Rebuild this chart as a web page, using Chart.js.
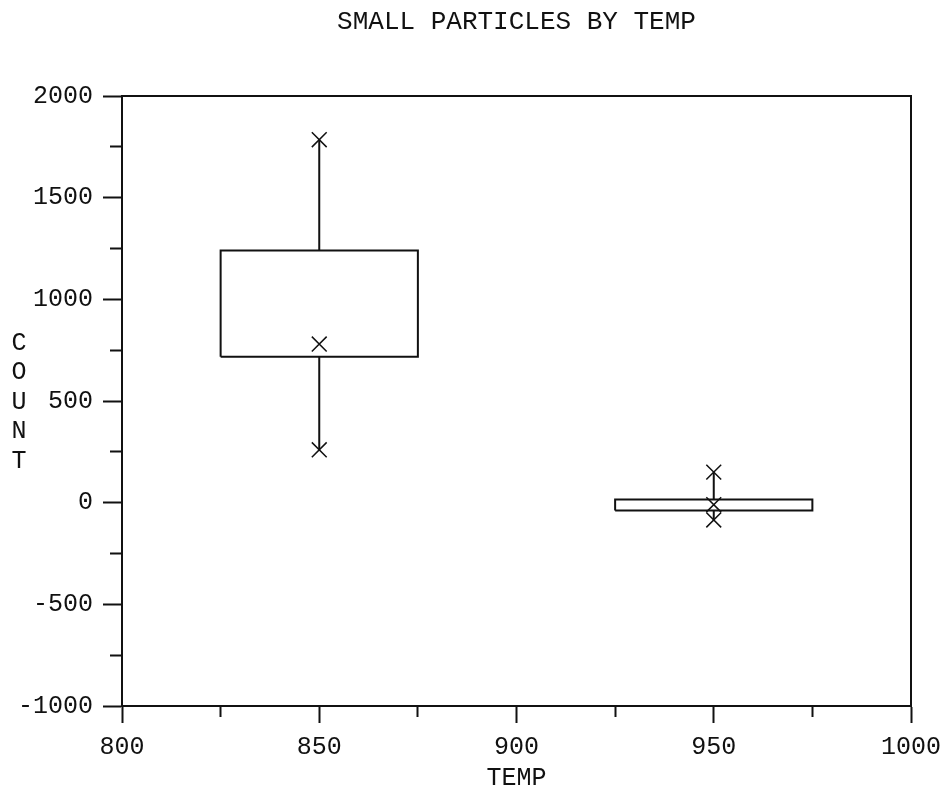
<!DOCTYPE html>
<html>
<head>
<meta charset="utf-8">
<script src="https://cdn.jsdelivr.net/npm/chart.js@4"></script>
<style>
  html, body { margin: 0; padding: 0; background: #fff; }
  canvas { display: block; }
</style>
</head>
<body>
<canvas id="c" width="944" height="795"></canvas>
<script>
// Small-particle counts summarised per furnace temperature
const temps      = [850, 950];
const lowValues  = [260, -85];
const boxBottom  = [718, -38];
const midValues  = [780, -10];
const boxTop     = [1240, 15];
const highValues = [1785, 150];

// Labelled tick values (minor ticks sit half-way between them)
const xTickLabels = [800, 850, 900, 950, 1000];
const yTickLabels = [-1000, -500, 0, 500, 1000, 1500, 2000];

const TITLE   = 'SMALL PARTICLES BY TEMP';
const X_TITLE = 'TEMP';
const Y_TITLE = 'COUNT';

const BOX_HALF = 25;   // half-width of each box, in temperature units
const FONT = '"Liberation Mono", "DejaVu Sans Mono", monospace';
const INK = '#111';

// Box outlines: closed rectangles, separated by a gap point
const boxPoints = [];
temps.forEach((t, i) => {
  boxPoints.push(
    {x: t - BOX_HALF, y: boxBottom[i]},
    {x: t + BOX_HALF, y: boxBottom[i]},
    {x: t + BOX_HALF, y: boxTop[i]},
    {x: t - BOX_HALF, y: boxTop[i]},
    {x: t - BOX_HALF, y: boxBottom[i]},
    {x: t, y: null}
  );
});

// Whiskers: low -> box bottom, box top -> high
const whiskerPoints = [];
temps.forEach((t, i) => {
  whiskerPoints.push(
    {x: t, y: lowValues[i]}, {x: t, y: boxBottom[i]}, {x: t, y: null},
    {x: t, y: boxTop[i]},    {x: t, y: highValues[i]}, {x: t, y: null}
  );
});

// Marker points: low, middle and high observation of each group
const markerPoints = [];
temps.forEach((t, i) => {
  markerPoints.push({x: t, y: highValues[i]}, {x: t, y: midValues[i]}, {x: t, y: lowValues[i]});
});

const xStep = (xTickLabels[1] - xTickLabels[0]) / 2;
const yStep = (yTickLabels[1] - yTickLabels[0]) / 2;

// Outline of the plotting frame
const framePlugin = {
  id: 'frame',
  afterDatasetsDraw(chart) {
    const {ctx, chartArea: a} = chart;
    ctx.save();
    ctx.strokeStyle = INK;
    ctx.lineWidth = 2;
    ctx.strokeRect(a.left, a.top, a.right - a.left, a.bottom - a.top);
    ctx.restore();
  }
};

// Vertical, letter-stacked y-axis title
const stackedYTitle = {
  id: 'stackedYTitle',
  afterDraw(chart) {
    const {ctx} = chart;
    ctx.save();
    ctx.fillStyle = INK;
    ctx.font = '25px ' + FONT;
    ctx.textAlign = 'center';
    ctx.textBaseline = 'middle';
    [...Y_TITLE].forEach((ch, i) => ctx.fillText(ch, 19, 343 + i * 29.5));
    ctx.restore();
  }
};

new Chart(document.getElementById('c'), {
  type: 'scatter',
  data: {
    datasets: [
      {
        label: 'markers',
        data: markerPoints,
        order: 0,
        pointStyle: 'crossRot',
        pointRadius: 10.5,
        pointBorderWidth: 1.5,
        pointBorderColor: INK,
        pointBackgroundColor: 'transparent',
        clip: false
      },
      {
        label: 'boxes',
        data: boxPoints,
        order: 1,
        showLine: true,
        spanGaps: false,
        borderColor: INK,
        borderWidth: 2,
        backgroundColor: 'transparent',
        pointRadius: 0,
        fill: false,
        tension: 0
      },
      {
        label: 'whiskers',
        data: whiskerPoints,
        order: 2,
        showLine: true,
        spanGaps: false,
        borderColor: INK,
        borderWidth: 2,
        pointRadius: 0,
        fill: false,
        tension: 0
      }
    ]
  },
  options: {
    responsive: false,
    animation: false,
    events: [],
    layout: { padding: { left: 0, right: 33, top: 0, bottom: 0 } },
    plugins: {
      legend: { display: false },
      tooltip: { enabled: false },
      title: {
        display: true,
        text: TITLE,
        fullSize: false,
        color: INK,
        font: { family: FONT, size: 26, weight: 'normal', lineHeight: 1 },
        padding: { top: 9.5, bottom: 60.5 }
      }
    },
    scales: {
      x: {
        type: 'linear',
        position: 'bottom',
        min: xTickLabels[0],
        max: xTickLabels[xTickLabels.length - 1],
        afterFit(scale) {
          scale.height = 89;
          scale.paddingLeft = 0;
          scale.paddingRight = 0;
        },
        ticks: {
          stepSize: xStep,
          autoSkip: false,
          maxRotation: 0,
          color: INK,
          padding: 12,
          font: { family: FONT, size: 25, lineHeight: 1 },
          callback: v => xTickLabels.includes(v) ? String(v) : ''
        },
        grid: {
          drawOnChartArea: false,
          drawTicks: true,
          tickLength: 17,
          tickWidth: 2,
          tickColor: INK,
          tickBorderDash: ctx => xTickLabels.includes(ctx.tick && ctx.tick.value) ? [] : [10, 100]
        },
        border: { display: true, color: INK, width: 2 },
        title: {
          display: true,
          text: X_TITLE,
          color: INK,
          font: { family: FONT, size: 25, lineHeight: 1 },
          padding: { top: 0, bottom: 4 }
        }
      },
      y: {
        type: 'linear',
        position: 'left',
        min: yTickLabels[0],
        max: yTickLabels[yTickLabels.length - 1],
        afterFit(scale) { scale.width = 122; },
        ticks: {
          stepSize: yStep,
          autoSkip: false,
          color: INK,
          padding: 10,
          font: { family: FONT, size: 25, lineHeight: 1 },
          callback: v => yTickLabels.includes(v) ? String(v) : ''
        },
        grid: {
          drawOnChartArea: false,
          drawTicks: true,
          tickLength: 19,
          tickWidth: 2,
          tickColor: INK,
          tickBorderDash: ctx => yTickLabels.includes(ctx.tick && ctx.tick.value) ? [] : [0, 7, 100]
        },
        border: { display: true, color: INK, width: 2 }
      }
    }
  },
  plugins: [framePlugin, stackedYTitle]
});
</script>
</body>
</html>
